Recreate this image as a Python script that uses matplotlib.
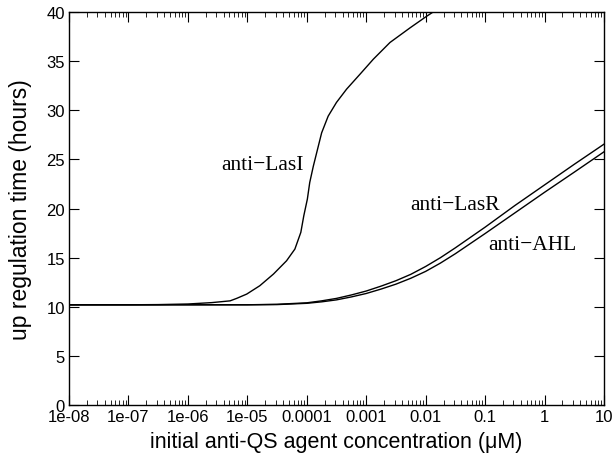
import matplotlib
matplotlib.use("Agg")
import matplotlib.pyplot as plt
import numpy as np

# concentrations (uM) and up-regulation times (hours)
lasi_x = [1e-8, 1e-7, 10**-6.5, 1e-6, 10**-5.6, 10**-5.29, 10**-5.18, 10**-5.01,
          10**-4.79, 10**-4.56, 10**-4.34, 10**-4.2, 10**-4.1, 10**-4.05,
          10**-3.99, 10**-3.95, 10**-3.89, 10**-3.82, 10**-3.75, 10**-3.64,
          10**-3.5, 10**-3.33, 10**-3.1, 10**-2.88, 10**-2.6, 10**-2.26,
          10**-2.0, 10**-1.85]
lasi_y = [10.2, 10.2, 10.22, 10.28, 10.42, 10.6, 10.85, 11.29,
          12.14, 13.33, 14.68, 15.87, 17.57, 19.26,
          20.96, 22.65, 24.3, 26.0, 27.7, 29.4,
          30.8, 32.15, 33.7, 35.2, 36.9, 38.4,
          39.5, 40.1]

lasr_x = [1e-8, 1e-5, 10**-4.5, 1e-4, 10**-3.75, 10**-3.5, 10**-3.25, 1e-3,
          10**-2.75, 10**-2.5, 10**-2.25, 1e-2, 10**-1.75, 10**-1.5,
          1e-1, 10**-0.5, 1.0, 10**0.5, 10.0]
lasr_y = [10.2, 10.2, 10.25, 10.4, 10.6, 10.85, 11.2, 11.6,
          12.1, 12.65, 13.3, 14.1, 15.0, 16.0,
          18.1, 20.3, 22.4, 24.5, 26.55]

ahl_x = [1e-8, 1e-5, 10**-4.5, 1e-4, 10**-3.75, 10**-3.5, 10**-3.25, 1e-3,
         10**-2.75, 10**-2.5, 10**-2.25, 1e-2, 10**-1.75, 10**-1.5,
         1e-1, 10**-0.5, 1.0, 10**0.5, 10.0]
ahl_y = [10.2, 10.2, 10.22, 10.35, 10.5, 10.7, 11.0, 11.35,
         11.8, 12.3, 12.9, 13.6, 14.45, 15.4,
         17.45, 19.55, 21.65, 23.7, 25.77]

xtick_vals = [1e-8, 1e-7, 1e-6, 1e-5, 1e-4, 1e-3, 1e-2, 1e-1, 1, 10]
xtick_labels = ['1e-08', '1e-07', '1e-06', '1e-05', '0.0001', '0.001',
                '0.01', '0.1', '1', '10']
ytick_vals = [0, 5, 10, 15, 20, 25, 30, 35, 40]

plt.rcParams['font.family'] = ['Liberation Sans', 'DejaVu Sans']

fig = plt.figure(figsize=(6.16, 4.60), dpi=100)
ax = fig.add_axes([0.112, 0.1174, 0.8685, 0.8543])

ax.plot(lasi_x, lasi_y, color='black', lw=1.0)
ax.plot(lasr_x, lasr_y, color='black', lw=1.0)
ax.plot(ahl_x, ahl_y, color='black', lw=1.0)

ax.set_xscale('log')
ax.set_xlim(1e-8, 10)
ax.set_ylim(0, 40)
ax.set_xticks(xtick_vals)
ax.set_xticklabels(xtick_labels)
ax.set_xticks([m * 10.0**e for e in range(-8, 1) for m in range(2, 10)], minor=True)
ax.set_yticks(ytick_vals)
ax.tick_params(which='major', direction='in', length=7, width=0.8,
               top=True, right=True, labelsize=12, pad=3)
ax.tick_params(which='minor', direction='in', length=3.5, width=0.6,
               top=True, right=True)
for s in ax.spines.values():
    s.set_linewidth(1.0)

ax.set_xlabel('initial anti-QS agent concentration (\u03bcM)', fontsize=15.5, labelpad=5)
ax.set_ylabel('up regulation time (hours)', fontsize=16.5, labelpad=10)

serif = ['Liberation Serif', 'DejaVu Serif']
ax.text(10**-4.75, 24.5, 'anti\u2212LasI', family=serif, fontsize=15.5, ha='center', va='center')
ax.text(10**-1.5, 20.45, 'anti\u2212LasR', family=serif, fontsize=15.5, ha='center', va='center')
ax.text(10**-0.21, 16.38, 'anti\u2212AHL', family=serif, fontsize=15.5, ha='center', va='center')

fig.savefig('out.png', dpi=100)
